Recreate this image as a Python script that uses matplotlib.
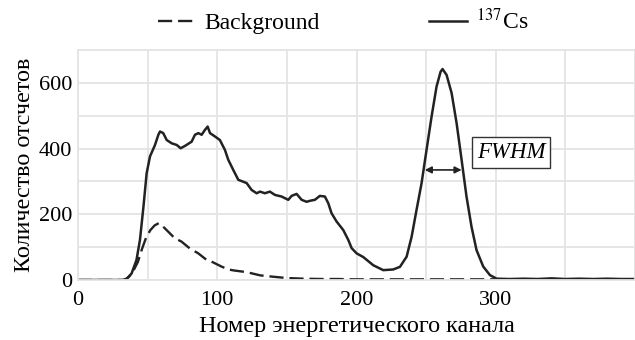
"""
Gamma spectrum of 137Cs against background, with FWHM marker
"""

import matplotlib
matplotlib.use('Agg')
import matplotlib.pyplot as plt
from matplotlib.ticker import MultipleLocator, FixedLocator

plt.rcParams['font.family'] = ['Liberation Serif', 'DejaVu Serif']
plt.rcParams['mathtext.fontset'] = 'stix'

# 137Cs spectrum (channel, counts)
csChan = [0, 20, 32, 35, 38.5, 42, 44.5, 47, 49.3, 51.7, 55.3, 57.7, 58.9, 61.2,
          63.7, 67.3, 70.9, 73.7, 76.8, 81.6, 84, 86.4, 88.8, 91.2, 93.1, 94.8,
          98.3, 101.9, 105.5, 107.9, 111.5, 115.1, 118.7, 121.1, 124.7, 128.3,
          130.7, 134.2, 137.8, 141.4, 146.2, 151, 153.4, 157, 160.6, 164.2,
          166.5, 170.1, 173.7, 177.3, 179.7, 182.1, 185.7, 190.5, 194.1, 196.5,
          200.1, 204.8, 212, 219.2, 226.3, 231.2, 236, 239.6, 243.1, 246.7,
          250.3, 253.9, 257.5, 260.4, 261.8, 264.7, 268.3, 271.9, 275.5, 279,
          282.6, 286.2, 291, 295.8, 300.6, 310, 320, 330, 340, 350, 360, 370,
          380, 390, 400]
csCounts = [0, 0, 0, 3, 20, 61, 122, 223, 325, 376, 411, 442, 452, 447,
            426, 416, 411, 401, 408, 421, 442, 447, 442, 457, 467, 447,
            437, 426, 396, 366, 335, 305, 299, 295, 274, 264,
            269, 264, 269, 259, 254, 244, 256, 262, 244, 238,
            241, 244, 256, 254, 234, 203, 178, 152, 122, 97,
            81, 70, 45, 30, 32, 40, 71, 132, 213, 294,
            396, 497, 589, 634, 642, 624, 569, 477, 365, 254,
            162, 91, 41, 15, 4, 3, 4, 3, 5, 3, 4, 3,
            4, 3, 3]

# background spectrum
bgChan = [0, 33, 35, 37, 40, 43, 46, 49, 52, 55, 58, 61, 64.8, 69.5, 74.3,
          80.3, 86.4, 92.4, 95.9, 103, 108, 112, 121, 131, 140, 150, 162, 174,
          186, 198, 210, 230, 250, 270, 290, 300, 320, 350, 400]
bgCounts = [0, 0, 5, 12, 30, 55, 95, 130, 152, 166, 173, 163, 147, 127, 117,
            96, 81, 61, 56, 41, 32, 29, 24, 14, 10, 6, 4, 3,
            3, 2, 2, 2, 2, 2, 2, 2, 2, 1, 1]

xTicks = [0, 100, 200, 300]

# FWHM arrow ends and height
fwhmLeft, fwhmRight, fwhmY = 249, 275.5, 335

lineCol = '#222222'
gridCol = '#e4e4e4'

fig = plt.figure(figsize=(6.35, 3.4), dpi=100)
ax = fig.add_axes([78/635, 60/340, 557/635, 230/340])

bg, = ax.plot(bgChan, bgCounts, color=lineCol, lw=1.7, dashes=(6, 2.5))
cs, = ax.plot(csChan, csCounts, color=lineCol, lw=1.8)

ax.set_xlim(0, 400)
ax.set_ylim(0, 700)
ax.xaxis.set_major_locator(FixedLocator(xTicks))
ax.xaxis.set_minor_locator(MultipleLocator(50))
ax.yaxis.set_major_locator(MultipleLocator(200))
ax.yaxis.set_minor_locator(MultipleLocator(100))
ax.grid(True, which='both', color=gridCol, lw=1.3)
ax.set_axisbelow(True)
ax.tick_params(which='both', length=0, labelsize=16)
ax.tick_params(axis='x', pad=8)
ax.tick_params(axis='y', pad=4)
for sp in ax.spines.values():
    sp.set_color(gridCol)
    sp.set_linewidth(1.3)

ax.set_xlabel('Номер энергетического канала', fontsize=17.4, labelpad=4)
ax.set_ylabel('Количество отсчетов', fontsize=17.4, labelpad=3)

ax.annotate('', xy=(fwhmLeft, fwhmY), xytext=(fwhmRight, fwhmY),
            arrowprops=dict(arrowstyle='<|-|>', color=lineCol, lw=1.2,
                            mutation_scale=10, shrinkA=0, shrinkB=0))
ax.text(311, 388, 'FWHM', style='italic', fontsize=16.5, ha='center', va='center',
        bbox=dict(boxstyle='square,pad=0.22', fc='white', ec='#333333', lw=1))

fig.legend((bg, cs), ('Background', r'$^{137}$Cs'),
           loc='center', bbox_to_anchor=(343/635, 1 - 21/340), ncol=2,
           frameon=False, fontsize=17, handlelength=1.6, handletextpad=0.4,
           columnspacing=4.6)

fig.savefig('out.png', dpi=100)
